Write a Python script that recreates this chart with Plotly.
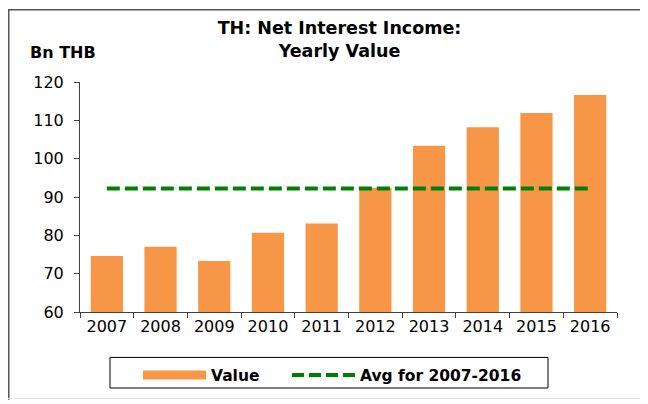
import plotly.graph_objects as go

# ---- data ----
years = ["2007", "2008", "2009", "2010", "2011", "2012", "2013", "2014", "2015", "2016"]
values = [74.6, 77.0, 73.3, 80.7, 83.1, 92.4, 103.4, 108.2, 111.9, 116.6]
avg_value = 92.2
y_ticks = [60, 70, 80, 90, 100, 110, 120]

# ---- layout geometry (page pixels; the page body adds an 8px offset) ----
OFF = 8
W, H = 648 - OFF, 404 - OFF
PL, PR, PT, PB = 80, 617, 82, 315          # plot area on the page
L, R, T, B = PL - OFF, 648 - PR, PT - OFF, 404 - PB
PW, PH = PR - PL, PB - PT


def px(x):
    return (x - PL) / PW


def py(y):
    return (PB - y) / PH


FONT = "DejaVu Sans, Arial, sans-serif"
ORANGE = "#F79646"
GREEN = "#008000"

fig = go.Figure()
fig.add_trace(go.Bar(x=years, y=values, marker=dict(color=ORANGE, line=dict(width=0)),
                     width=0.6, showlegend=False, name="Value"))
fig.add_trace(go.Scatter(x=[years[0], years[-1]], y=[avg_value, avg_value], mode="lines",
                         line=dict(color=GREEN, width=4, dash="13px,5px"),
                         showlegend=False, name="Avg for 2007-2016"))
# legend entries
fig.add_trace(go.Scatter(x=[None], y=[None], mode="lines", name="Value",
                         line=dict(color=ORANGE, width=9), legend="legend"))
fig.add_trace(go.Scatter(x=[None], y=[None], mode="lines", name="Avg for 2007-2016",
                         line=dict(color=GREEN, width=4, dash="12px,5px"), legend="legend2"))

legend_common = dict(orientation="h", yanchor="top", xanchor="left",
                     font=dict(size=15.5, family=FONT, color="black", weight="bold"),
                     bgcolor="rgba(0,0,0,0)", borderwidth=0, itemwidth=63)

fig.update_layout(
    width=W, height=H,
    margin=dict(l=L, r=R, t=T, b=B, pad=0),
    paper_bgcolor="white", plot_bgcolor="white",
    font=dict(family=FONT, size=16, color="black"),
    title=dict(text="<b>TH: Net Interest Income:<br>Yearly Value</b>",
               font=dict(size=17.5, family=FONT, color="black"),
               x=px(339.5), xref="paper", xanchor="center",
               y=1 - 26 / H, yref="container", yanchor="top"),
    showlegend=True,
    legend=dict(x=px(138), y=py(362), **legend_common),
    legend2=dict(x=px(287), y=py(362), **legend_common),
    xaxis=dict(type="category", showgrid=False, showline=True, linecolor="#404040",
               linewidth=1, ticks="outside", tickson="boundaries", ticklen=5,
               tickcolor="#404040", tickfont=dict(size=16), range=[-0.5, 9.5]),
    yaxis=dict(range=[60, 120], tickvals=y_ticks, showgrid=False, showline=True,
               linecolor="#404040", linewidth=1, ticks="outside", ticklen=5,
               tickcolor="#404040", tickfont=dict(size=16), ticklabelstandoff=7,
               zeroline=False),
    bargap=0.4,
    annotations=[dict(text="<b>Bn THB</b>", xref="paper", yref="paper",
                      x=px(28), y=py(52), xanchor="left", yanchor="middle",
                      showarrow=False, font=dict(size=16, family=FONT, color="black"))],
    shapes=[
        # legend box
        dict(type="rect", xref="paper", yref="paper", x0=px(110), x1=px(548),
             y0=py(361), y1=py(392), line=dict(color="black", width=1)),
        # outer frame lines (as close to the page edge as the figure reaches)
        dict(type="line", xref="paper", yref="paper", x0=px(OFF), x1=px(648),
             y0=py(OFF + 0.75), y1=py(OFF + 0.75), line=dict(color="#555555", width=1.5)),
        dict(type="line", xref="paper", yref="paper", x0=px(OFF + 0.75), x1=px(OFF + 0.75),
             y0=py(OFF), y1=py(404), line=dict(color="#555555", width=1.5)),
        dict(type="line", xref="paper", yref="paper", x0=px(OFF), x1=px(648),
             y0=py(402.5), y1=py(402.5), line=dict(color="#dddddd", width=1)),
    ],
)

fig.write_html("out.html")
